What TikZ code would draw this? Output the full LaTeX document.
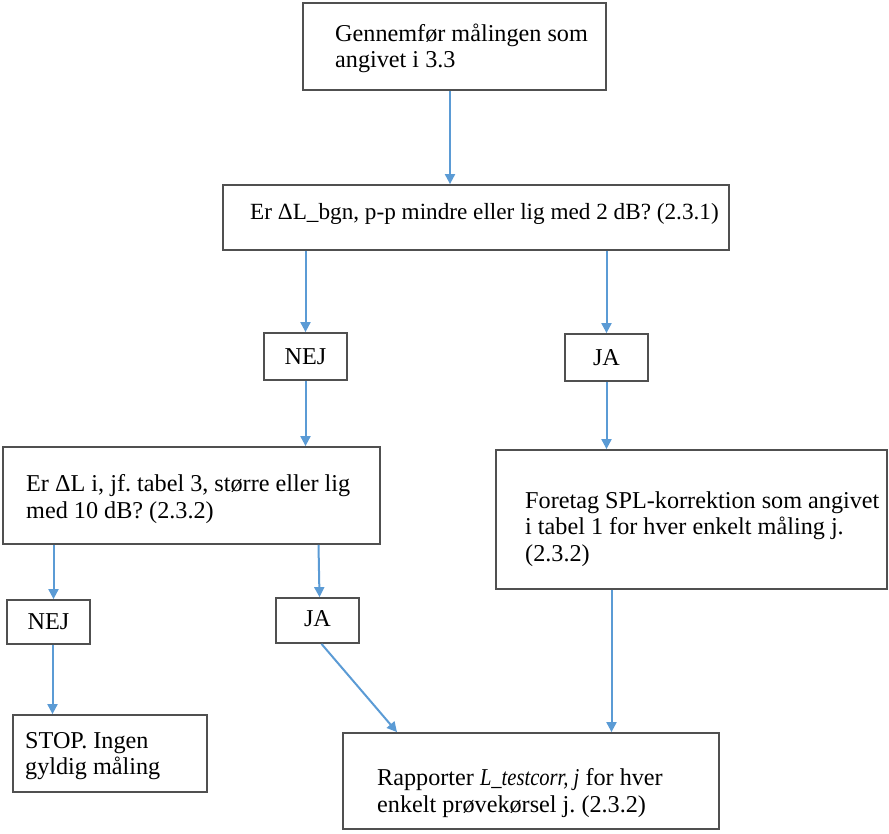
\documentclass[tikz,border=0pt]{standalone}
\usepackage{fontspec}
\setmainfont{Liberation Serif}
\usetikzlibrary{arrows.meta,calc}
\definecolor{boxgray}{HTML}{505050}
\definecolor{arrblue}{HTML}{5B9BD5}
\begin{document}
\frenchspacing
\begin{tikzpicture}[x=1pt,y=-1pt,
  box/.style={draw=boxgray, line width=1.8pt, fill=white, inner sep=0pt},
  txt/.style={anchor=west, align=left, inner sep=0pt, font=\fontsize{24.2}{26.5}\selectfont},
  lbl/.style={box, font=\fontsize{24.2}{26.5}\selectfont},
  arr/.style={draw=arrblue, line width=2pt, -{Triangle[length=10pt,width=10pt]}}]
\useasboundingbox (0,0) rectangle (889,833);
% boxes
\node[box, minimum width=303pt, minimum height=87pt] (top) at (454.5,46.5) {};
\node[box, minimum width=506pt, minimum height=65pt] (b2) at (476,217.5) {};
\node[lbl, minimum width=83pt, minimum height=47pt] (nej1) at (305.5,356.5) {\raisebox{-5pt}{NEJ}};
\node[lbl, minimum width=83pt, minimum height=47pt] (ja1) at (606.5,357.5) {\raisebox{-5pt}{JA}};
\node[box, minimum width=377pt, minimum height=97pt] (b5) at (191.5,495.5) {};
\node[box, minimum width=391pt, minimum height=139pt] (rb) at (691.5,519.5) {};
\node[lbl, minimum width=83pt, minimum height=44pt] (nej2) at (48.5,622) {NEJ};
\node[lbl, minimum width=83pt, minimum height=45pt] (ja2) at (317.5,620.5) {\raisebox{3pt}{JA}};
\node[box, minimum width=194pt, minimum height=77pt] (stop) at (110,753.5) {};
\node[box, minimum width=376pt, minimum height=96pt] (rap) at (531,781) {};
% texts
\node[txt] (ttop) at (335,48.5) {Gennemfør målingen som\\angivet i 3.3};
\node[txt, font=\fontsize{23.2}{26.5}\selectfont] (tb2) at (250,214) {Er ΔL\_bgn, p-p mindre eller lig med 2 dB? (2.3.1)};
\node[txt] (tb5) at (26,499) {Er ΔL i, jf. tabel 3, større eller lig\\med 10 dB? (2.3.2)};
\node[txt] (trb) at (525,529) {Foretag SPL-korrektion som angivet\\i tabel 1 for hver enkelt måling j.\\(2.3.2)};
\node[txt] (tstop) at (25,756) {STOP. Ingen\\gyldig måling};
\node[txt] (trap) at (377,793) {Rapporter \scalebox{0.85}[1]{\textit{L\_testcorr, j}} for hver\\enkelt prøvekørsel j. (2.3.2)};
% connectors
\draw[arr] ([xshift=-4.5pt]top.south) -- ([xshift=-4.5pt]top.south |- b2.north);
\draw[arr] (nej1.north |- b2.south) -- (nej1.north);
\draw[arr] (ja1.north |- b2.south) -- (ja1.north);
\draw[arr] (nej1.south) -- (nej1.south |- b5.north);
\draw[arr] (ja1.south) -- (ja1.south |- rb.north);
\draw[arr] ([xshift=5pt]nej2.north |- b5.south) -- ([xshift=5pt]nej2.north);
\draw[arr] ([xshift=1pt]ja2.north |- b5.south) -- ([xshift=2pt]ja2.north);
\draw[arr] ([xshift=4pt]nej2.south) -- ([xshift=4pt]nej2.south |- stop.north);
\draw[arr] ([xshift=4pt]ja2.south) -- ([xshift=-134pt]rap.north);
\draw[arr] ([xshift=-80pt]rb.south) -- ([xshift=-80pt]rb.south |- rap.north);
\end{tikzpicture}
\end{document}
